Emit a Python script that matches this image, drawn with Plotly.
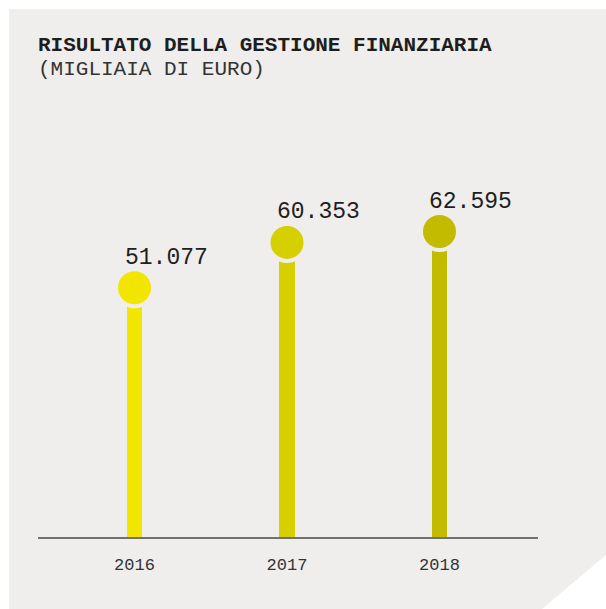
import plotly.graph_objects as go

# Risultato della gestione finanziaria, migliaia di euro
years = ["2016", "2017", "2018"]
values = [51.077, 60.353, 62.595]
value_labels = ["51.077", "60.353", "62.595"]
colors = ["#f2e600", "#d7d000", "#c2bb00"]

W, H = 606, 609
L, R, T, B = 38, 68, 47, 72
PW, PH = W - L - R, H - T - B
Y_MAX = 100.4

PANEL = "#efeeec"
INK = "#1e1e1e"
FONT = "Liberation Mono"


def px(x):
    return (x - L) / PW


def py(y):
    return (H - B - y) / PH


fig = go.Figure()

# stems
fig.add_trace(go.Bar(
    x=years, y=values, width=0.1,
    marker=dict(color=colors, line=dict(width=0)),
    hoverinfo="skip", showlegend=False,
))

# heads, ringed in the panel colour so they detach from the stems
fig.add_trace(go.Scatter(
    x=years, y=values, mode="markers",
    marker=dict(size=37, color=colors, line=dict(color=PANEL, width=4)),
    hoverinfo="skip", showlegend=False, cliponaxis=False,
))

for i, (v, lab) in enumerate(zip(values, value_labels)):
    fig.add_annotation(
        x=i, y=v, xref="x", yref="y", text=lab, showarrow=False,
        xanchor="left", yanchor="middle", xshift=-12, yshift=30,
        font=dict(family=FONT, size=23, color=INK),
    )

# background panel with clipped bottom-right corner
corners = [(9, 9), (606, 9), (606, 555), (542, 609), (9, 609)]
path = "M " + " L ".join(f"{px(x):.5f},{py(y):.5f}" for x, y in corners) + " Z"
fig.add_shape(type="path", path=path, xref="paper", yref="paper",
              fillcolor=PANEL, line=dict(width=0), layer="below")

fig.add_annotation(
    x=px(36), y=py(46), xref="paper", yref="paper", showarrow=False,
    xanchor="left", yanchor="middle",
    text="<b>RISULTATO DELLA GESTIONE FINANZIARIA</b>",
    font=dict(family=FONT, size=21, color=INK),
)
fig.add_annotation(
    x=px(36), y=py(69), xref="paper", yref="paper", showarrow=False,
    xanchor="left", yanchor="middle",
    text="(MIGLIAIA DI EURO)",
    font=dict(family=FONT, size=21, color="#333333"),
)

fig.update_layout(
    width=W, height=H,
    margin=dict(l=L, r=R, t=T, b=B, pad=0),
    paper_bgcolor="white",
    plot_bgcolor="rgba(0,0,0,0)",
    bargap=0,
    xaxis=dict(
        type="category", range=[-0.633, 2.646],
        showline=True, linecolor="#707070", linewidth=2,
        showgrid=False, zeroline=False, ticks="",
        ticklabelstandoff=11,
        tickfont=dict(family=FONT, size=17, color="#333333"),
        fixedrange=True,
    ),
    yaxis=dict(
        range=[0, Y_MAX], visible=False, showgrid=False,
        zeroline=False, fixedrange=True,
    ),
)

fig.write_html("out.html")
